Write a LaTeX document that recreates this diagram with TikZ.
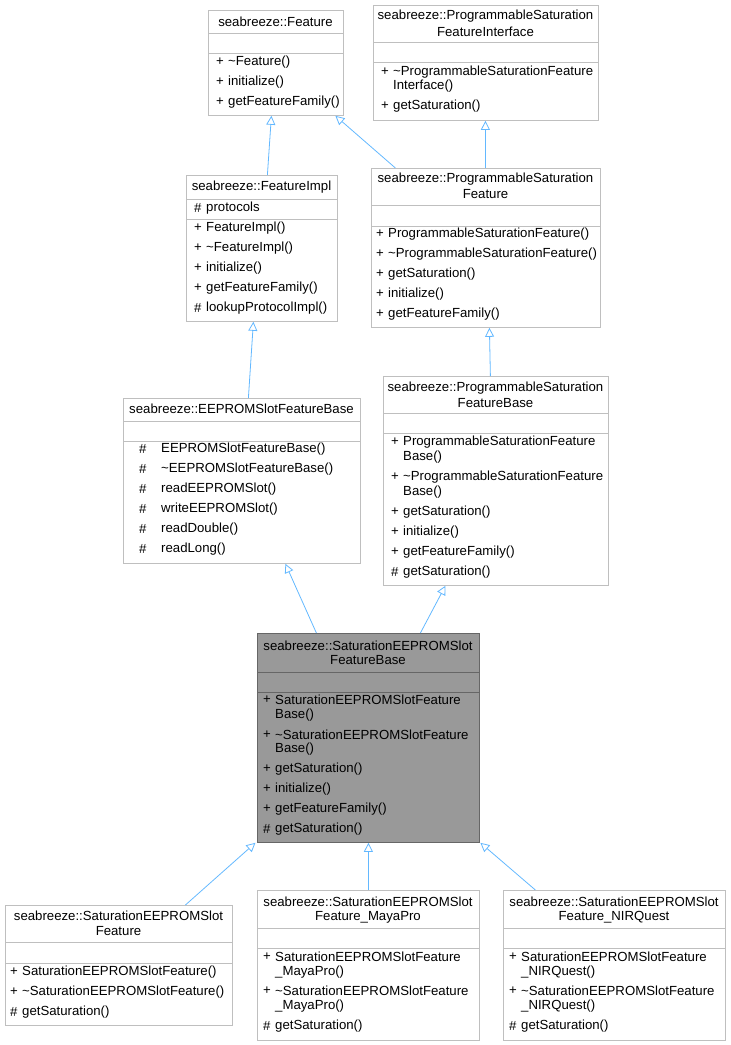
\documentclass[tikz,border=0pt]{standalone}
\usepackage{fontspec}
\setmainfont{Liberation Sans}
\usetikzlibrary{arrows.meta}
\definecolor{edge}{HTML}{63B8FF}
\tikzset{
 box/.style={draw=black!25, fill=white, inner sep=0pt, line width=0.8pt},
 mainbox/.style={draw=black!60, fill=black!40, inner sep=0pt, line width=0.8pt},
 txt/.style={inner sep=0pt, font=\fontsize{13.2}{15}\selectfont},
 inh/.style={draw=edge, line width=0.8pt, -{Triangle[open, fill=white, length=9pt, width=9pt]}},
}
\newcommand\cls[8]{%
 \node[#8, minimum width={(#4-#2)*1pt}, minimum height={(#5-#3)*1pt}, anchor=north west] (#1) at (#2,#3) {};
 \draw[#8, fill=none] (#2,#6) -- (#4,#6) (#2,#7) -- (#4,#7);}
\newcommand\mm[4]{\node[txt, anchor=west] at (#1,#2) {#3}; \node[txt, anchor=west] at (#1+12,#2) {#4};}
\newcommand\ttl[3]{\node[txt] at (#1,#2) {#3};}
\begin{document}
\begin{tikzpicture}[x=1pt,y=-1pt]
\useasboundingbox (0,0) rectangle (731,1045);
% Feature
\cls{feat}{208}{10}{343}{115}{33}{53}{box}
\ttl{275.5}{22}{seabreeze::Feature}
\mm{216}{62}{+}{\textasciitilde Feature()}
\mm{216}{82}{+}{initialize()}
\mm{216}{102}{+}{getFeatureFamily()}
% Interface
\cls{iface}{373}{5}{598}{120}{42}{62}{box}
\ttl{485.5}{16.5}{seabreeze::ProgrammableSaturation}
\ttl{485.5}{31.5}{FeatureInterface}
\mm{381}{72}{+}{\textasciitilde ProgrammableSaturationFeature}
\node[txt,anchor=west] at (393,86) {Interface()};
\mm{381}{106}{+}{getSaturation()}
% FeatureImpl
\cls{fimpl}{186}{175}{337}{321}{199}{219}{box}
\ttl{261.5}{187}{seabreeze::FeatureImpl}
\mm{194}{208}{\#}{protocols}
\mm{194}{228}{+}{FeatureImpl()}
\mm{194}{248}{+}{\textasciitilde FeatureImpl()}
\mm{194}{268}{+}{initialize()}
\mm{194}{288}{+}{getFeatureFamily()}
\mm{194}{308}{\#}{lookupProtocolImpl()}
% ProgSatFeature
\cls{psf}{371}{168}{600}{327}{205}{226}{box}
\ttl{485.5}{179}{seabreeze::ProgrammableSaturation}
\ttl{485.5}{194}{Feature}
\mm{376}{234}{+}{ProgrammableSaturationFeature()}
\mm{376}{254}{+}{\textasciitilde ProgrammableSaturationFeature()}
\mm{376}{274}{+}{getSaturation()}
\mm{376}{294}{+}{initialize()}
\mm{376}{314}{+}{getFeatureFamily()}
% EEPROM
\cls{eeb}{123}{398}{360}{563}{421}{441}{box}
\ttl{241.5}{409}{seabreeze::EEPROMSlotFeatureBase}
\foreach \y/\t in {449/EEPROMSlotFeatureBase(),469/\textasciitilde EEPROMSlotFeatureBase(),489/readEEPROMSlot(),509/writeEEPROMSlot(),529/readDouble(),549/readLong()}
 {\node[txt,anchor=west] at (139,\y) {\#}; \node[txt,anchor=west] at (161,\y) {\t};}
% ProgSatFeatureBase
\cls{psfb}{383}{376}{608}{585}{413}{433}{box}
\ttl{495.5}{388}{seabreeze::ProgrammableSaturation}
\ttl{495.5}{403}{FeatureBase}
\mm{391}{442}{+}{ProgrammableSaturationFeature}
\node[txt,anchor=west] at (403,457) {Base()};
\mm{391}{477}{+}{\textasciitilde ProgrammableSaturationFeature}
\node[txt,anchor=west] at (403,492) {Base()};
\mm{391}{512}{+}{getSaturation()}
\mm{391}{532}{+}{initialize()}
\mm{391}{552}{+}{getFeatureFamily()}
\mm{391}{572}{\#}{getSaturation()}
% SatBase
\cls{sb}{257}{633}{479}{842}{672}{692}{mainbox}
\ttl{368}{646}{seabreeze::SaturationEEPROMSlot}
\ttl{368}{660}{FeatureBase}
\mm{263}{700}{+}{SaturationEEPROMSlotFeature}
\node[txt,anchor=west] at (275,715) {Base()};
\mm{263}{735}{+}{\textasciitilde SaturationEEPROMSlotFeature}
\node[txt,anchor=west] at (275,749) {Base()};
\mm{263}{769}{+}{getSaturation()}
\mm{263}{789}{+}{initialize()}
\mm{263}{809}{+}{getFeatureFamily()}
\mm{263}{829}{\#}{getSaturation()}
% SatFeature
\cls{sf}{5}{905}{232}{1025}{942}{963}{box}
\ttl{118.5}{916}{seabreeze::SaturationEEPROMSlot}
\ttl{118.5}{931}{Feature}
\mm{10}{972}{+}{SaturationEEPROMSlotFeature()}
\mm{10}{992}{+}{\textasciitilde SaturationEEPROMSlotFeature()}
\mm{10}{1012}{\#}{getSaturation()}
% MayaPro
\cls{maya}{257}{890}{479}{1040}{928}{948}{box}
\ttl{368}{902}{seabreeze::SaturationEEPROMSlot}
\ttl{368}{917}{Feature\_MayaPro}
\mm{263}{957}{+}{SaturationEEPROMSlotFeature}
\node[txt,anchor=west] at (275,972) {\_MayaPro()};
\mm{263}{991}{+}{\textasciitilde SaturationEEPROMSlotFeature}
\node[txt,anchor=west] at (275,1006) {\_MayaPro()};
\mm{263}{1026}{\#}{getSaturation()}
% NIRQuest
\cls{nir}{503}{890}{725}{1040}{928}{948}{box}
\ttl{614}{902}{seabreeze::SaturationEEPROMSlot}
\ttl{614}{917}{Feature\_NIRQuest}
\mm{509}{957}{+}{SaturationEEPROMSlotFeature}
\node[txt,anchor=west] at (521,972) {\_NIRQuest()};
\mm{509}{991}{+}{\textasciitilde SaturationEEPROMSlotFeature}
\node[txt,anchor=west] at (521,1006) {\_NIRQuest()};
\mm{509}{1026}{\#}{getSaturation()}
% edges
\draw[inh] ([xshift=5.5pt]fimpl.north) -- ([xshift=-4.5pt]feat.south);
\draw[inh] ([xshift=-90.5pt]psf.north) -- ([xshift=59.5pt]feat.south);
\draw[inh] ([xshift=-0.5pt]psf.north) -- ([xshift=-0.5pt]iface.south);
\draw[inh] ([xshift=6.5pt]eeb.north) -- ([xshift=-8.5pt]fimpl.south);
\draw[inh] ([xshift=-5.5pt]psfb.north) -- ([xshift=3.5pt]psf.south);
\draw[inh] ([xshift=-52pt]sb.north) -- ([xshift=43.5pt]eeb.south);
\draw[inh] ([xshift=52pt]sb.north) -- ([xshift=-50.5pt]psfb.south);
\draw[inh] ([xshift=66.5pt]sf.north) -- ([xshift=-113pt]sb.south);
\draw[inh] (maya.north) -- (sb.south);
\draw[inh] ([xshift=-79pt]nir.north) -- ([xshift=112pt]sb.south);
\end{tikzpicture}
\end{document}
